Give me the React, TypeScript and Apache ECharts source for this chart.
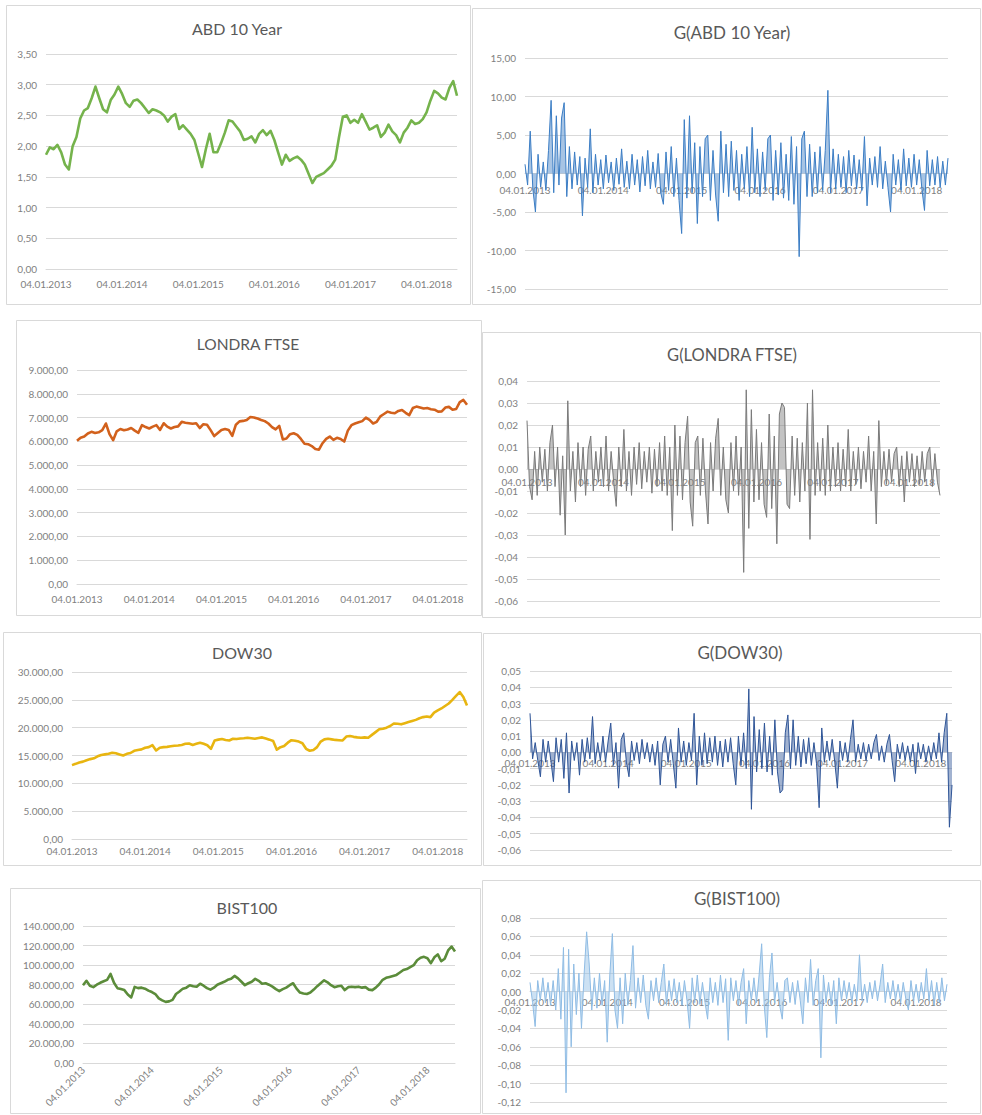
import React, { useEffect, useRef } from "react";
import * as echarts from "echarts";

// ---- tick labels ----
const YEAR_LABELS = ["04.01.2013", "04.01.2014", "04.01.2015", "04.01.2016", "04.01.2017", "04.01.2018"];
const PRICE_STEP = 20; // points between two year labels (price charts)
const RETURN_STEP = 30; // points between two year labels (return charts)

// ---- price series ----
const ABD = [1.86,1.98,1.95,2.02,1.90,1.70,1.62,2.00,2.15,2.45,
 2.58,2.62,2.78,2.97,2.78,2.60,2.55,2.75,2.84,2.97,
 2.85,2.70,2.64,2.74,2.76,2.70,2.62,2.54,2.60,2.58,
 2.55,2.50,2.40,2.48,2.52,2.28,2.34,2.27,2.20,2.10,
 1.88,1.66,1.95,2.20,1.90,1.90,2.05,2.22,2.42,2.40,
 2.32,2.24,2.10,2.12,2.16,2.06,2.20,2.26,2.18,2.25,
 2.10,1.90,1.70,1.86,1.76,1.80,1.83,1.78,1.70,1.55,
 1.40,1.50,1.53,1.56,1.62,1.68,1.78,2.15,2.48,2.50,
 2.38,2.43,2.38,2.52,2.40,2.27,2.30,2.34,2.15,2.22,
 2.35,2.24,2.18,2.06,2.22,2.30,2.42,2.36,2.38,2.44,
 2.55,2.74,2.90,2.86,2.79,2.76,2.95,3.06,2.82];

const FTSE = [6020,6150,6200,6330,6400,6350,6380,6470,6750,6300,
 6050,6420,6520,6470,6500,6560,6450,6360,6680,6600,
 6540,6620,6680,6480,6760,6620,6540,6600,6630,6820,
 6780,6760,6740,6760,6560,6720,6700,6470,6220,6350,
 6480,6520,6480,6230,6700,6840,6860,6900,7020,7000,
 6960,6900,6850,6750,6600,6500,6650,6080,6120,6300,
 6340,6270,6100,5900,5880,5800,5680,5650,5920,6100,
 6200,6060,6150,6100,5990,6450,6680,6750,6800,6850,
 7000,6900,6750,6820,7050,7150,7250,7200,7180,7280,
 7320,7200,7100,7400,7460,7420,7380,7400,7350,7330,
 7250,7260,7420,7450,7330,7360,7650,7740,7540];

const DOW = [13270,13500,13750,13900,14150,14350,14500,14850,15100,15200,
 15300,15500,15400,15200,15000,15300,15450,15850,16000,16100,
 16400,16500,16850,15900,16400,16500,16550,16650,16750,16800,
 16900,17100,17150,16900,17100,17300,17100,16850,16200,17700,
 17850,17950,17800,17700,18000,17950,18050,18100,18200,18100,
 18000,18150,18250,18050,17850,17600,16050,16500,16700,17300,
 17750,17650,17500,17200,16200,15850,16000,16500,17500,17900,
 18000,17900,17800,17750,17700,18400,18500,18350,18250,18200,
 18250,18200,18700,19200,19700,19800,20000,20300,20750,20700,
 20600,20800,21000,21200,21400,21700,21900,22000,21900,22700,
 23100,23450,23900,24350,25000,25700,26400,25500,24000];

const BIST = [79500,84000,79000,77500,80000,82000,83500,85000,91000,82000,
 76500,75500,74500,70000,67000,77800,76500,77000,76000,74000,
 72500,70500,66000,64000,62500,63000,64500,70500,73000,76000,
 77000,79500,78500,78000,81000,79000,76500,75000,77000,80000,
 81500,83000,85000,86000,89000,86500,83000,79500,81500,83000,
 86000,84000,81000,81500,80000,78000,75500,73500,75500,77000,
 79500,81500,76000,72000,71000,70500,72000,75000,78500,81500,
 84500,82500,79500,77500,78500,79000,74500,77500,78000,77500,
 78000,77000,77500,75000,74500,77000,80500,85000,87000,88000,
 89000,90000,92500,95000,96000,98000,100000,105000,107500,108500,
 107000,102000,108000,111000,104000,106500,115000,119000,114000];

// ---- return series ----
const G_ABD = [1.2,-1.5,5.5,-2.0,-5.0,2.5,-1.8,1.5,-2.2,3.0,
 9.5,-2.5,7.5,-1.5,7.2,9.2,-3.0,3.5,-2.0,2.8,
 -1.5,2.2,-5.5,2.0,-1.8,5.8,-2.5,2.5,-1.5,1.8,
 -2.0,2.4,-1.2,1.5,-2.2,2.0,-1.4,3.2,-1.8,1.6,
 -2.0,2.5,-1.5,1.8,-2.4,2.2,-1.6,3.0,-2.0,1.5,
 -1.8,2.6,-2.5,-4.0,2.8,-2.2,3.5,-3.0,2.0,-3.5,
 -7.8,7.0,-3.2,7.5,-2.5,4.0,-6.5,3.5,-3.0,4.5,
 5.0,-3.5,3.0,-2.8,-6.2,5.5,-2.5,3.8,-3.0,4.2,
 -2.2,3.0,-3.5,2.5,-2.0,3.5,-3.0,6.0,-2.5,3.2,
 -3.0,2.8,-2.2,4.5,5.0,-3.5,3.0,-2.8,4.0,-3.2,
 2.5,-3.5,4.8,-4.0,3.5,-10.8,4.5,5.5,-3.0,3.8,
 -3.0,2.8,-2.5,3.5,-2.2,3.0,10.8,-2.5,3.2,-2.0,
 2.5,-1.8,2.2,-2.5,3.0,-1.6,2.4,-2.0,1.8,-2.2,
 4.8,-4.2,2.0,-1.5,2.2,-1.8,3.5,-2.0,1.6,-1.8,
 -5.0,2.5,-1.5,1.8,-2.2,3.2,-1.6,2.0,-1.8,2.5,
 -1.5,1.8,-2.0,-4.8,3.0,-1.6,1.8,-1.5,2.2,-1.8,
 1.6,-1.5,2.0];

const G_FTSE = [0.022,-0.008,-0.014,0.008,-0.012,0.010,-0.006,0.009,-0.010,0.012,
 0.020,-0.008,0.010,-0.021,0.006,-0.030,0.031,-0.010,0.008,-0.015,
 0.012,-0.008,0.010,-0.012,0.009,0.015,-0.010,0.008,-0.006,0.010,
 -0.008,0.015,-0.010,0.008,-0.006,-0.017,0.010,-0.008,0.018,-0.010,
 0.008,-0.012,0.010,-0.007,0.012,-0.009,0.008,-0.006,0.010,-0.011,
 0.009,-0.008,0.012,-0.010,0.015,-0.012,0.010,-0.028,0.020,-0.012,
 0.015,-0.014,0.012,0.024,-0.015,-0.026,0.012,0.015,-0.012,0.014,
 -0.010,-0.025,0.012,-0.010,0.014,0.023,-0.012,0.010,-0.014,-0.020,
 0.012,-0.010,0.015,-0.012,0.010,-0.047,0.036,-0.027,0.027,-0.015,
 0.018,-0.014,0.012,-0.016,-0.022,0.025,-0.018,0.015,-0.034,0.025,
 0.030,0.028,-0.016,-0.018,0.015,-0.012,0.014,-0.015,0.012,-0.010,
 0.030,-0.032,0.036,-0.012,0.012,-0.010,0.014,-0.012,0.020,-0.010,
 0.010,-0.008,0.012,-0.010,0.009,-0.008,0.018,-0.010,0.008,-0.007,
 0.010,-0.009,0.008,-0.006,0.015,-0.010,0.008,-0.025,0.022,-0.008,
 0.008,-0.007,0.009,-0.006,0.007,0.010,-0.008,0.006,-0.015,0.008,
 -0.006,0.007,-0.008,0.006,-0.007,0.008,-0.006,0.007,0.010,-0.008,
 0.007,-0.006,-0.012];

const G_DOW = [0.024,-0.004,0.006,-0.005,-0.015,0.008,-0.006,0.007,-0.005,-0.018,
 0.009,-0.006,0.008,-0.016,0.012,-0.025,0.007,-0.005,0.006,-0.014,
 0.008,-0.006,0.009,-0.004,0.022,-0.007,0.006,-0.005,0.010,-0.006,
 0.007,0.018,-0.008,0.006,-0.022,0.008,0.012,-0.006,-0.015,0.007,
 -0.005,0.006,-0.007,0.008,-0.004,0.006,-0.006,0.005,-0.008,0.007,
 -0.020,0.005,0.010,-0.006,0.008,-0.007,-0.022,0.015,-0.006,0.007,
 -0.008,0.006,-0.005,0.024,-0.020,0.010,-0.008,0.012,-0.007,0.009,
 -0.006,0.010,-0.008,0.007,-0.009,0.008,-0.006,0.009,-0.007,-0.020,
 0.010,-0.008,0.012,-0.010,0.039,-0.035,0.022,-0.012,0.014,-0.010,
 0.018,-0.012,0.010,-0.014,0.020,-0.012,-0.025,-0.023,0.012,0.023,
 -0.010,0.020,-0.008,0.010,-0.009,0.008,-0.007,0.009,-0.008,0.006,
 -0.007,-0.034,0.015,-0.006,0.007,-0.005,0.008,-0.006,-0.022,0.007,
 -0.005,0.006,-0.006,0.008,0.020,-0.006,0.005,-0.004,0.006,-0.005,
 0.005,-0.004,0.006,0.011,-0.005,0.004,-0.006,0.005,0.011,-0.005,
 -0.018,0.005,-0.004,0.006,-0.005,0.004,-0.006,0.005,-0.013,0.006,
 -0.004,0.005,-0.006,0.004,-0.005,0.006,-0.004,0.012,-0.006,0.012,
 0.024,-0.046,-0.020];

const G_BIST = [0.010,-0.012,-0.038,0.012,-0.010,0.015,-0.012,0.010,-0.015,0.012,
 -0.020,0.025,-0.030,0.048,-0.110,0.046,-0.060,0.030,-0.025,0.020,
 -0.040,0.018,0.065,0.030,-0.020,0.015,-0.018,0.020,-0.015,0.012,
 -0.055,0.018,0.063,-0.020,-0.040,0.015,-0.035,0.020,-0.015,0.012,
 0.050,-0.018,0.015,-0.012,0.018,-0.015,-0.030,0.012,-0.010,0.015,
 -0.012,0.010,0.030,-0.015,0.012,-0.010,0.014,-0.012,0.010,-0.015,
 0.012,-0.010,-0.040,0.015,-0.012,0.018,-0.014,0.010,-0.012,-0.030,
 0.015,-0.012,0.010,-0.015,0.018,-0.012,0.014,-0.053,0.015,-0.010,
 0.012,-0.015,0.010,0.025,-0.035,0.012,-0.010,0.015,-0.012,0.018,
 0.052,-0.015,-0.050,0.015,0.042,-0.012,0.010,-0.015,-0.030,0.012,
 0.015,-0.012,0.010,-0.014,0.012,-0.010,-0.035,0.015,-0.012,0.035,
 -0.015,0.012,0.025,-0.072,0.018,-0.012,0.010,-0.015,0.012,-0.035,
 0.015,-0.010,0.012,-0.008,0.010,-0.012,0.008,-0.010,0.040,-0.010,
 0.008,-0.012,0.010,-0.008,0.012,-0.010,0.008,0.030,-0.012,0.010,
 -0.008,0.012,-0.010,0.008,-0.012,0.010,-0.008,-0.020,0.012,-0.010,
 0.008,-0.012,0.010,-0.008,0.025,-0.010,0.012,-0.015,0.010,-0.012,
 0.015,-0.010,0.008];

const FONT = "Lato, 'Liberation Sans', sans-serif";
const LABEL_COLOR = "#7f7f7f";
const TITLE_COLOR = "#595959";
const GRID_COLOR = "#d9d9d9";
const LABEL_SIZE = 10;

function trNum(v: number, d: number): string {
  const s = Math.abs(v).toFixed(d);
  const parts = s.split(".");
  const intPart = parts[0].replace(/\B(?=(\d{3})+(?!\d))/g, ".");
  const out = parts[1] ? intPart + "," + parts[1] : intPart;
  return (v < 0 && Number(s) !== 0 ? "-" : "") + out;
}

type Panel = {
  title: string;
  data: number[];
  step: number;
  color: string;
  lineWidth: number;
  area: boolean;
  box: [number, number, number, number];
  grid: { left: number; top: number; width: number; height: number };
  y: { min: number; max: number; interval: number };
  titlePos: [number, number];
  titleSize: number;
  xMargin: number;
  rotate: number;
  onZero: boolean;
};

const PANELS: Panel[] = [
  { title: "ABD 10 Year", data: ABD, step: PRICE_STEP, color: "#75B34C", lineWidth: 2.6, area: false,
    box: [6, 5, 464, 299], grid: { left: 46, top: 54, width: 411, height: 215 },
    y: { min: 0, max: 3.5, interval: 0.5 }, titlePos: [237, 28], titleSize: 16, xMargin: 10, rotate: 0, onZero: false },
  { title: "G(ABD 10 Year)", data: G_ABD, step: RETURN_STEP, color: "#3B7DC4", lineWidth: 1, area: true,
    box: [472, 8, 508, 296], grid: { left: 525, top: 58, width: 423, height: 231 },
    y: { min: -15, max: 15, interval: 5 }, titlePos: [732, 32], titleSize: 17, xMargin: 11, rotate: 0, onZero: true },
  { title: "LONDRA FTSE", data: FTSE, step: PRICE_STEP, color: "#D2611C", lineWidth: 2.6, area: false,
    box: [16, 320, 465, 295], grid: { left: 77, top: 370, width: 390, height: 214 },
    y: { min: 0, max: 9000, interval: 1000 }, titlePos: [248, 344], titleSize: 15.5, xMargin: 10, rotate: 0, onZero: false },
  { title: "G(LONDRA FTSE)", data: G_FTSE, step: RETURN_STEP, color: "#7a7a7a", lineWidth: 1, area: true,
    box: [482, 332, 498, 285], grid: { left: 527, top: 381, width: 413, height: 220 },
    y: { min: -0.06, max: 0.04, interval: 0.01 }, titlePos: [732, 355], titleSize: 16.5, xMargin: 8, rotate: 0, onZero: true },
  { title: "DOW30", data: DOW, step: PRICE_STEP, color: "#E8B510", lineWidth: 2.6, area: false,
    box: [3, 632, 478, 233], grid: { left: 72, top: 672, width: 395, height: 167 },
    y: { min: 0, max: 30000, interval: 5000 }, titlePos: [242, 652], titleSize: 16, xMargin: 7, rotate: 0, onZero: false },
  { title: "G(DOW30)", data: G_DOW, step: RETURN_STEP, color: "#2F5597", lineWidth: 1, area: true,
    box: [483, 633, 497, 232], grid: { left: 530, top: 671, width: 422, height: 179 },
    y: { min: -0.06, max: 0.05, interval: 0.01 }, titlePos: [740, 652], titleSize: 17, xMargin: 6, rotate: 0, onZero: true },
  { title: "BIST100", data: BIST, step: PRICE_STEP, color: "#5B8C3A", lineWidth: 2.6, area: false,
    box: [10, 888, 470, 225], grid: { left: 83, top: 926, width: 372, height: 137 },
    y: { min: 0, max: 140000, interval: 20000 }, titlePos: [247, 907], titleSize: 16, xMargin: 5, rotate: 45, onZero: false },
  { title: "G(BIST100)", data: G_BIST, step: RETURN_STEP, color: "#8FBCE4", lineWidth: 1, area: true,
    box: [482, 880, 498, 233], grid: { left: 530, top: 918, width: 417, height: 184 },
    y: { min: -0.12, max: 0.08, interval: 0.02 }, titlePos: [737, 898], titleSize: 17, xMargin: 5, rotate: 0, onZero: true },
];

function buildOption() {
  const grid: any[] = [];
  const xAxis: any[] = [];
  const yAxis: any[] = [];
  const series: any[] = [];
  const graphic: any[] = [];

  PANELS.forEach((p, k) => {
    const [bx, by, bw, bh] = p.box;
    graphic.push({
      type: "rect",
      z: 0,
      silent: true,
      shape: { x: bx + 0.5, y: by + 0.5, width: bw, height: bh },
      style: { fill: "none", stroke: GRID_COLOR, lineWidth: 1 },
    });
    graphic.push({
      type: "text",
      silent: true,
      x: p.titlePos[0],
      y: p.titlePos[1],
      style: {
        text: p.title,
        fill: TITLE_COLOR,
        font: `${p.titleSize}px ${FONT}`,
        align: "center",
        verticalAlign: "middle",
        textAlign: "center",
        textVerticalAlign: "middle",
      },
    });

    grid.push({ left: p.grid.left, top: p.grid.top, width: p.grid.width, height: p.grid.height, containLabel: false });
    const last = p.data.length - 1;
    // for return charts the category axis sits on the zero line (Excel default)
    const zeroShift = p.onZero ? -(p.grid.height * (0 - p.y.min)) / (p.y.max - p.y.min) : 0;
    xAxis.push({
      type: "value",
      gridIndex: k,
      min: 0,
      max: last,
      interval: p.step,
      offset: zeroShift,
      axisLine: { show: true, onZero: false, lineStyle: { color: GRID_COLOR, width: 1 } },
      axisTick: { show: false },
      splitLine: { show: false },
      axisLabel: {
        color: LABEL_COLOR,
        fontSize: LABEL_SIZE,
        fontFamily: FONT,
        margin: p.xMargin,
        rotate: p.rotate,
        showMaxLabel: false,
        hideOverlap: false,
        formatter: (v: number) => {
          const idx = Math.round(v / p.step);
          return Math.abs(v - idx * p.step) < 1e-6 && YEAR_LABELS[idx] ? YEAR_LABELS[idx] : "";
        },
      },
    });
    yAxis.push({
      type: "value",
      gridIndex: k,
      min: p.y.min,
      max: p.y.max,
      interval: p.y.interval,
      axisLine: { show: false, onZero: false },
      axisTick: { show: false },
      splitLine: { show: true, lineStyle: { color: GRID_COLOR, width: 1 } },
      axisLabel: {
        color: LABEL_COLOR,
        fontSize: LABEL_SIZE,
        fontFamily: FONT,
        margin: 9,
        formatter: (v: number) => trNum(v, 2),
      },
    });
    series.push({
      type: "line",
      xAxisIndex: k,
      yAxisIndex: k,
      data: p.data.map((v, i) => [i, v]),
      showSymbol: false,
      symbol: "none",
      silent: true,
      z: 3,
      lineStyle: { color: p.color, width: p.lineWidth, join: "round" },
      areaStyle: p.area ? { color: p.color, opacity: 0.45, origin: "auto" } : undefined,
    });
  });

  return {
    animation: false,
    backgroundColor: "#ffffff",
    textStyle: { fontFamily: FONT },
    grid,
    xAxis,
    yAxis,
    series,
    graphic: { elements: graphic },
  };
}

export default function App() {
  const ref = useRef<HTMLDivElement>(null);

  useEffect(() => {
    document.body.style.margin = "0";
    if (!ref.current) return;
    const chart = echarts.init(ref.current, undefined, { renderer: "svg" });
    chart.setOption(buildOption() as any);
    return () => {
      chart.dispose();
    };
  }, []);

  return <div ref={ref} style={{ width: 982, height: 1115 }} />;
}
